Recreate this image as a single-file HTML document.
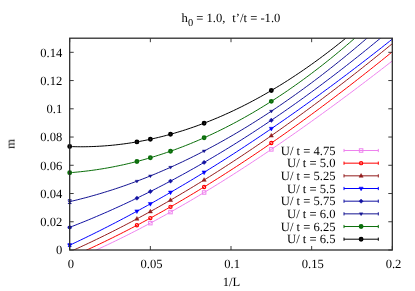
<!DOCTYPE html>
<html><head><meta charset="utf-8"><style>
html,body{margin:0;padding:0;background:#fff;}
svg{display:block;}
text{font-family:"Liberation Serif",serif;font-size:12.6px;fill:#000;text-rendering:geometricPrecision;will-change:transform;}
</style></head><body>
<svg width="415" height="291" viewBox="0 0 415 291">
<rect width="415" height="291" fill="#fff"/>
<clipPath id="c"><rect x="69.7" y="38.2" width="322.6" height="211.8"/></clipPath>
<path d="M69.70,261.58 L72.39,260.46 L75.08,259.32 L77.77,258.18 L80.45,257.02 L83.14,255.85 L85.83,254.67 L88.52,253.48 L91.21,252.28 L93.90,251.06 L96.58,249.84 L99.27,248.60 L101.96,247.36 L104.65,246.10 L107.34,244.83 L110.03,243.55 L112.71,242.27 L115.40,240.97 L118.09,239.66 L120.78,238.33 L123.47,237.00 L126.16,235.66 L128.84,234.31 L131.53,232.95 L134.22,231.58 L136.91,230.19 L139.60,228.80 L142.29,227.40 L144.97,225.99 L147.66,224.56 L150.35,223.13 L153.04,221.69 L155.73,220.24 L158.42,218.77 L161.10,217.30 L163.79,215.82 L166.48,214.33 L169.17,212.83 L171.86,211.32 L174.55,209.80 L177.23,208.28 L179.92,206.74 L182.61,205.19 L185.30,203.64 L187.99,202.07 L190.68,200.50 L193.36,198.92 L196.05,197.33 L198.74,195.73 L201.43,194.12 L204.12,192.50 L206.81,190.87 L209.49,189.24 L212.18,187.60 L214.87,185.94 L217.56,184.28 L220.25,182.61 L222.94,180.94 L225.62,179.25 L228.31,177.56 L231.00,175.86 L233.69,174.15 L236.38,172.43 L239.06,170.70 L241.75,168.97 L244.44,167.23 L247.13,165.48 L249.82,163.72 L252.51,161.95 L255.19,160.18 L257.88,158.40 L260.57,156.61 L263.26,154.82 L265.95,153.02 L268.64,151.21 L271.32,149.39 L274.01,147.56 L276.70,145.73 L279.39,143.89 L282.08,142.05 L284.77,140.19 L287.46,138.33 L290.14,136.47 L292.83,134.59 L295.52,132.71 L298.21,130.82 L300.90,128.93 L303.59,127.03 L306.27,125.12 L308.96,123.21 L311.65,121.29 L314.34,119.36 L317.03,117.43 L319.72,115.49 L322.40,113.54 L325.09,111.59 L327.78,109.63 L330.47,107.67 L333.16,105.70 L335.85,103.72 L338.53,101.74 L341.22,99.75 L343.91,97.76 L346.60,95.76 L349.29,93.76 L351.98,91.75 L354.66,89.73 L357.35,87.71 L360.04,85.68 L362.73,83.65 L365.42,81.61 L368.11,79.57 L370.79,77.52 L373.48,75.47 L376.17,73.41 L378.86,71.35 L381.55,69.28 L384.24,67.20 L386.92,65.12 L389.61,63.04 L392.30,60.95" fill="none" stroke="#ee82ee" stroke-width="1.0" clip-path="url(#c)"/>
<path d="M69.70,257.60 L72.39,256.43 L75.08,255.25 L77.77,254.06 L80.45,252.86 L83.14,251.65 L85.83,250.43 L88.52,249.20 L91.21,247.96 L93.90,246.71 L96.58,245.44 L99.27,244.17 L101.96,242.89 L104.65,241.60 L107.34,240.29 L110.03,238.98 L112.71,237.66 L115.40,236.32 L118.09,234.98 L120.78,233.63 L123.47,232.27 L126.16,230.89 L128.84,229.51 L131.53,228.12 L134.22,226.72 L136.91,225.30 L139.60,223.88 L142.29,222.45 L144.97,221.01 L147.66,219.56 L150.35,218.10 L153.04,216.63 L155.73,215.15 L158.42,213.66 L161.10,212.17 L163.79,210.66 L166.48,209.14 L169.17,207.62 L171.86,206.08 L174.55,204.54 L177.23,202.99 L179.92,201.42 L182.61,199.85 L185.30,198.27 L187.99,196.68 L190.68,195.08 L193.36,193.47 L196.05,191.86 L198.74,190.23 L201.43,188.59 L204.12,186.95 L206.81,185.30 L209.49,183.64 L212.18,181.97 L214.87,180.29 L217.56,178.60 L220.25,176.90 L222.94,175.20 L225.62,173.48 L228.31,171.76 L231.00,170.03 L233.69,168.29 L236.38,166.54 L239.06,164.79 L241.75,163.02 L244.44,161.25 L247.13,159.47 L249.82,157.68 L252.51,155.88 L255.19,154.08 L257.88,152.26 L260.57,150.44 L263.26,148.61 L265.95,146.77 L268.64,144.92 L271.32,143.07 L274.01,141.20 L276.70,139.33 L279.39,137.45 L282.08,135.57 L284.77,133.67 L287.46,131.77 L290.14,129.86 L292.83,127.94 L295.52,126.01 L298.21,124.08 L300.90,122.14 L303.59,120.19 L306.27,118.23 L308.96,116.27 L311.65,114.30 L314.34,112.32 L317.03,110.33 L319.72,108.34 L322.40,106.34 L325.09,104.33 L327.78,102.31 L330.47,100.29 L333.16,98.26 L335.85,96.22 L338.53,94.17 L341.22,92.12 L343.91,90.06 L346.60,87.99 L349.29,85.92 L351.98,83.84 L354.66,81.75 L357.35,79.66 L360.04,77.55 L362.73,75.44 L365.42,73.33 L368.11,71.21 L370.79,69.08 L373.48,66.94 L376.17,64.80 L378.86,62.65 L381.55,60.49 L384.24,58.33 L386.92,56.16 L389.61,53.98 L392.30,51.80" fill="none" stroke="#ff0000" stroke-width="1.0" clip-path="url(#c)"/>
<path d="M69.70,251.83 L72.39,250.63 L75.08,249.42 L77.77,248.20 L80.45,246.97 L83.14,245.73 L85.83,244.48 L88.52,243.22 L91.21,241.95 L93.90,240.66 L96.58,239.37 L99.27,238.07 L101.96,236.76 L104.65,235.44 L107.34,234.11 L110.03,232.77 L112.71,231.42 L115.40,230.07 L118.09,228.70 L120.78,227.32 L123.47,225.93 L126.16,224.53 L128.84,223.13 L131.53,221.71 L134.22,220.29 L136.91,218.85 L139.60,217.41 L142.29,215.95 L144.97,214.49 L147.66,213.02 L150.35,211.53 L153.04,210.04 L155.73,208.54 L158.42,207.03 L161.10,205.51 L163.79,203.98 L166.48,202.45 L169.17,200.90 L171.86,199.35 L174.55,197.78 L177.23,196.21 L179.92,194.63 L182.61,193.03 L185.30,191.43 L187.99,189.83 L190.68,188.21 L193.36,186.58 L196.05,184.94 L198.74,183.30 L201.43,181.65 L204.12,179.98 L206.81,178.31 L209.49,176.63 L212.18,174.95 L214.87,173.25 L217.56,171.55 L220.25,169.83 L222.94,168.11 L225.62,166.38 L228.31,164.64 L231.00,162.89 L233.69,161.14 L236.38,159.37 L239.06,157.60 L241.75,155.82 L244.44,154.03 L247.13,152.23 L249.82,150.42 L252.51,148.61 L255.19,146.79 L257.88,144.96 L260.57,143.12 L263.26,141.27 L265.95,139.42 L268.64,137.56 L271.32,135.68 L274.01,133.81 L276.70,131.92 L279.39,130.02 L282.08,128.12 L284.77,126.21 L287.46,124.29 L290.14,122.37 L292.83,120.43 L295.52,118.49 L298.21,116.54 L300.90,114.59 L303.59,112.62 L306.27,110.65 L308.96,108.67 L311.65,106.68 L314.34,104.69 L317.03,102.69 L319.72,100.68 L322.40,98.66 L325.09,96.63 L327.78,94.60 L330.47,92.56 L333.16,90.51 L335.85,88.46 L338.53,86.40 L341.22,84.33 L343.91,82.25 L346.60,80.17 L349.29,78.08 L351.98,75.98 L354.66,73.88 L357.35,71.77 L360.04,69.65 L362.73,67.52 L365.42,65.39 L368.11,63.25 L370.79,61.10 L373.48,58.95 L376.17,56.79 L378.86,54.62 L381.55,52.45 L384.24,50.27 L386.92,48.08 L389.61,45.88 L392.30,43.68" fill="none" stroke="#931c1c" stroke-width="1.0" clip-path="url(#c)"/>
<path d="M69.70,245.20 L72.39,243.94 L75.08,242.67 L77.77,241.40 L80.45,240.11 L83.14,238.82 L85.83,237.52 L88.52,236.21 L91.21,234.90 L93.90,233.57 L96.58,232.24 L99.27,230.90 L101.96,229.55 L104.65,228.19 L107.34,226.82 L110.03,225.45 L112.71,224.07 L115.40,222.68 L118.09,221.28 L120.78,219.87 L123.47,218.45 L126.16,217.03 L128.84,215.60 L131.53,214.16 L134.22,212.71 L136.91,211.26 L139.60,209.80 L142.29,208.32 L144.97,206.85 L147.66,205.36 L150.35,203.86 L153.04,202.36 L155.73,200.85 L158.42,199.33 L161.10,197.80 L163.79,196.27 L166.48,194.73 L169.17,193.18 L171.86,191.62 L174.55,190.06 L177.23,188.48 L179.92,186.90 L182.61,185.31 L185.30,183.72 L187.99,182.11 L190.68,180.50 L193.36,178.88 L196.05,177.26 L198.74,175.62 L201.43,173.98 L204.12,172.33 L206.81,170.67 L209.49,169.01 L212.18,167.34 L214.87,165.66 L217.56,163.97 L220.25,162.27 L222.94,160.57 L225.62,158.86 L228.31,157.15 L231.00,155.42 L233.69,153.69 L236.38,151.95 L239.06,150.21 L241.75,148.45 L244.44,146.69 L247.13,144.92 L249.82,143.15 L252.51,141.37 L255.19,139.58 L257.88,137.78 L260.57,135.97 L263.26,134.16 L265.95,132.34 L268.64,130.52 L271.32,128.69 L274.01,126.85 L276.70,125.00 L279.39,123.14 L282.08,121.28 L284.77,119.42 L287.46,117.54 L290.14,115.66 L292.83,113.77 L295.52,111.87 L298.21,109.97 L300.90,108.06 L303.59,106.14 L306.27,104.22 L308.96,102.29 L311.65,100.35 L314.34,98.41 L317.03,96.46 L319.72,94.50 L322.40,92.53 L325.09,90.56 L327.78,88.58 L330.47,86.60 L333.16,84.61 L335.85,82.61 L338.53,80.60 L341.22,78.59 L343.91,76.57 L346.60,74.55 L349.29,72.52 L351.98,70.48 L354.66,68.43 L357.35,66.38 L360.04,64.32 L362.73,62.26 L365.42,60.19 L368.11,58.11 L370.79,56.03 L373.48,53.94 L376.17,51.84 L378.86,49.74 L381.55,47.63 L384.24,45.51 L386.92,43.39 L389.61,41.26 L392.30,39.12" fill="none" stroke="#0000ff" stroke-width="1.0" clip-path="url(#c)"/>
<path d="M69.70,227.36 L72.39,226.31 L75.08,225.26 L77.77,224.20 L80.45,223.12 L83.14,222.04 L85.83,220.94 L88.52,219.84 L91.21,218.72 L93.90,217.59 L96.58,216.45 L99.27,215.31 L101.96,214.15 L104.65,212.98 L107.34,211.80 L110.03,210.61 L112.71,209.41 L115.40,208.20 L118.09,206.98 L120.78,205.75 L123.47,204.51 L126.16,203.26 L128.84,201.99 L131.53,200.72 L134.22,199.44 L136.91,198.14 L139.60,196.84 L142.29,195.52 L144.97,194.20 L147.66,192.86 L150.35,191.52 L153.04,190.16 L155.73,188.80 L158.42,187.42 L161.10,186.03 L163.79,184.64 L166.48,183.23 L169.17,181.81 L171.86,180.38 L174.55,178.94 L177.23,177.49 L179.92,176.03 L182.61,174.56 L185.30,173.08 L187.99,171.59 L190.68,170.09 L193.36,168.58 L196.05,167.06 L198.74,165.53 L201.43,163.98 L204.12,162.43 L206.81,160.87 L209.49,159.29 L212.18,157.71 L214.87,156.12 L217.56,154.51 L220.25,152.90 L222.94,151.27 L225.62,149.64 L228.31,147.99 L231.00,146.34 L233.69,144.67 L236.38,142.99 L239.06,141.31 L241.75,139.61 L244.44,137.90 L247.13,136.19 L249.82,134.46 L252.51,132.72 L255.19,130.97 L257.88,129.21 L260.57,127.45 L263.26,125.67 L265.95,123.88 L268.64,122.08 L271.32,120.27 L274.01,118.45 L276.70,116.62 L279.39,114.78 L282.08,112.93 L284.77,111.07 L287.46,109.19 L290.14,107.31 L292.83,105.42 L295.52,103.52 L298.21,101.61 L300.90,99.68 L303.59,97.75 L306.27,95.81 L308.96,93.86 L311.65,91.89 L314.34,89.92 L317.03,87.94 L319.72,85.94 L322.40,83.94 L325.09,81.92 L327.78,79.90 L330.47,77.87 L333.16,75.82 L335.85,73.77 L338.53,71.70 L341.22,69.63 L343.91,67.54 L346.60,65.45 L349.29,63.34 L351.98,61.22 L354.66,59.10 L357.35,56.96 L360.04,54.82 L362.73,52.66 L365.42,50.49 L368.11,48.32 L370.79,46.13 L373.48,43.93 L376.17,41.72 L378.86,39.51 L381.55,37.28 L384.24,35.04 L386.92,32.79 L389.61,30.54 L392.30,28.27" fill="none" stroke="#1212a2" stroke-width="1.0" clip-path="url(#c)"/>
<path d="M69.70,201.64 L72.39,201.01 L75.08,200.37 L77.77,199.71 L80.45,199.03 L83.14,198.34 L85.83,197.63 L88.52,196.91 L91.21,196.17 L93.90,195.41 L96.58,194.64 L99.27,193.85 L101.96,193.05 L104.65,192.23 L107.34,191.40 L110.03,190.55 L112.71,189.69 L115.40,188.81 L118.09,187.91 L120.78,187.00 L123.47,186.07 L126.16,185.13 L128.84,184.17 L131.53,183.19 L134.22,182.20 L136.91,181.20 L139.60,180.18 L142.29,179.14 L144.97,178.09 L147.66,177.02 L150.35,175.94 L153.04,174.84 L155.73,173.72 L158.42,172.59 L161.10,171.45 L163.79,170.28 L166.48,169.11 L169.17,167.91 L171.86,166.71 L174.55,165.48 L177.23,164.24 L179.92,162.99 L182.61,161.72 L185.30,160.43 L187.99,159.13 L190.68,157.82 L193.36,156.49 L196.05,155.14 L198.74,153.78 L201.43,152.40 L204.12,151.01 L206.81,149.60 L209.49,148.17 L212.18,146.73 L214.87,145.28 L217.56,143.81 L220.25,142.32 L222.94,140.82 L225.62,139.31 L228.31,137.77 L231.00,136.23 L233.69,134.67 L236.38,133.09 L239.06,131.50 L241.75,129.89 L244.44,128.26 L247.13,126.63 L249.82,124.97 L252.51,123.30 L255.19,121.62 L257.88,119.92 L260.57,118.20 L263.26,116.47 L265.95,114.73 L268.64,112.97 L271.32,111.19 L274.01,109.40 L276.70,107.60 L279.39,105.78 L282.08,103.94 L284.77,102.09 L287.46,100.22 L290.14,98.34 L292.83,96.44 L295.52,94.53 L298.21,92.60 L300.90,90.66 L303.59,88.70 L306.27,86.73 L308.96,84.75 L311.65,82.74 L314.34,80.73 L317.03,78.69 L319.72,76.65 L322.40,74.58 L325.09,72.51 L327.78,70.41 L330.47,68.31 L333.16,66.18 L335.85,64.05 L338.53,61.89 L341.22,59.73 L343.91,57.54 L346.60,55.35 L349.29,53.13 L351.98,50.91 L354.66,48.66 L357.35,46.41 L360.04,44.13 L362.73,41.85 L365.42,39.55 L368.11,37.23 L370.79,34.90 L373.48,32.55 L376.17,30.19 L378.86,27.81 L381.55,25.42 L384.24,23.02 L386.92,20.60 L389.61,18.16 L392.30,15.71" fill="none" stroke="#141492" stroke-width="1.0" clip-path="url(#c)"/>
<path d="M69.70,172.70 L72.39,172.49 L75.08,172.26 L77.77,172.01 L80.45,171.73 L83.14,171.44 L85.83,171.13 L88.52,170.81 L91.21,170.46 L93.90,170.09 L96.58,169.70 L99.27,169.29 L101.96,168.86 L104.65,168.41 L107.34,167.94 L110.03,167.46 L112.71,166.95 L115.40,166.42 L118.09,165.87 L120.78,165.31 L123.47,164.72 L126.16,164.11 L128.84,163.48 L131.53,162.84 L134.22,162.17 L136.91,161.48 L139.60,160.78 L142.29,160.05 L144.97,159.30 L147.66,158.53 L150.35,157.75 L153.04,156.94 L155.73,156.11 L158.42,155.26 L161.10,154.40 L163.79,153.51 L166.48,152.60 L169.17,151.67 L171.86,150.73 L174.55,149.76 L177.23,148.77 L179.92,147.76 L182.61,146.73 L185.30,145.68 L187.99,144.62 L190.68,143.53 L193.36,142.42 L196.05,141.29 L198.74,140.14 L201.43,138.97 L204.12,137.78 L206.81,136.56 L209.49,135.33 L212.18,134.08 L214.87,132.81 L217.56,131.52 L220.25,130.20 L222.94,128.87 L225.62,127.52 L228.31,126.14 L231.00,124.75 L233.69,123.33 L236.38,121.90 L239.06,120.44 L241.75,118.97 L244.44,117.47 L247.13,115.95 L249.82,114.41 L252.51,112.86 L255.19,111.28 L257.88,109.68 L260.57,108.06 L263.26,106.42 L265.95,104.75 L268.64,103.07 L271.32,101.37 L274.01,99.65 L276.70,97.90 L279.39,96.14 L282.08,94.35 L284.77,92.55 L287.46,90.72 L290.14,88.87 L292.83,87.00 L295.52,85.12 L298.21,83.21 L300.90,81.27 L303.59,79.32 L306.27,77.35 L308.96,75.36 L311.65,73.34 L314.34,71.31 L317.03,69.25 L319.72,67.18 L322.40,65.08 L325.09,62.96 L327.78,60.82 L330.47,58.66 L333.16,56.48 L335.85,54.28 L338.53,52.06 L341.22,49.81 L343.91,47.55 L346.60,45.26 L349.29,42.96 L351.98,40.63 L354.66,38.28 L357.35,35.91 L360.04,33.52 L362.73,31.11 L365.42,28.67 L368.11,26.22 L370.79,23.74 L373.48,21.25 L376.17,18.73 L378.86,16.19 L381.55,13.63 L384.24,11.05 L386.92,8.45 L389.61,5.82 L392.30,3.18" fill="none" stroke="#0a6e0a" stroke-width="1.0" clip-path="url(#c)"/>
<path d="M69.70,146.55 L72.39,146.64 L75.08,146.70 L77.77,146.74 L80.45,146.75 L83.14,146.75 L85.83,146.72 L88.52,146.67 L91.21,146.59 L93.90,146.49 L96.58,146.38 L99.27,146.23 L101.96,146.07 L104.65,145.88 L107.34,145.67 L110.03,145.44 L112.71,145.19 L115.40,144.91 L118.09,144.61 L120.78,144.29 L123.47,143.94 L126.16,143.58 L128.84,143.19 L131.53,142.78 L134.22,142.34 L136.91,141.88 L139.60,141.41 L142.29,140.90 L144.97,140.38 L147.66,139.83 L150.35,139.26 L153.04,138.67 L155.73,138.06 L158.42,137.42 L161.10,136.76 L163.79,136.08 L166.48,135.38 L169.17,134.65 L171.86,133.90 L174.55,133.13 L177.23,132.34 L179.92,131.52 L182.61,130.69 L185.30,129.83 L187.99,128.94 L190.68,128.04 L193.36,127.11 L196.05,126.16 L198.74,125.19 L201.43,124.19 L204.12,123.18 L206.81,122.14 L209.49,121.08 L212.18,119.99 L214.87,118.89 L217.56,117.76 L220.25,116.61 L222.94,115.44 L225.62,114.24 L228.31,113.02 L231.00,111.79 L233.69,110.52 L236.38,109.24 L239.06,107.93 L241.75,106.61 L244.44,105.25 L247.13,103.88 L249.82,102.49 L252.51,101.07 L255.19,99.63 L257.88,98.17 L260.57,96.69 L263.26,95.18 L265.95,93.65 L268.64,92.10 L271.32,90.53 L274.01,88.93 L276.70,87.32 L279.39,85.68 L282.08,84.02 L284.77,82.33 L287.46,80.63 L290.14,78.90 L292.83,77.15 L295.52,75.38 L298.21,73.59 L300.90,71.77 L303.59,69.93 L306.27,68.07 L308.96,66.19 L311.65,64.29 L314.34,62.36 L317.03,60.42 L319.72,58.45 L322.40,56.45 L325.09,54.44 L327.78,52.40 L330.47,50.34 L333.16,48.26 L335.85,46.16 L338.53,44.04 L341.22,41.89 L343.91,39.72 L346.60,37.53 L349.29,35.32 L351.98,33.09 L354.66,30.83 L357.35,28.55 L360.04,26.25 L362.73,23.93 L365.42,21.59 L368.11,19.22 L370.79,16.84 L373.48,14.43 L376.17,11.99 L378.86,9.54 L381.55,7.07 L384.24,4.57 L386.92,2.05 L389.61,-0.49 L392.30,-3.05" fill="none" stroke="#000000" stroke-width="1.0" clip-path="url(#c)"/>
<rect x="148.60" y="221.38" width="3.5" height="3.5" fill="none" stroke="#ee82ee" stroke-width="1"/>
<rect x="168.76" y="210.33" width="3.5" height="3.5" fill="none" stroke="#ee82ee" stroke-width="1"/>
<rect x="202.37" y="190.75" width="3.5" height="3.5" fill="none" stroke="#ee82ee" stroke-width="1"/>
<rect x="269.57" y="147.64" width="3.5" height="3.5" fill="none" stroke="#ee82ee" stroke-width="1"/>
<circle cx="136.91" cy="225.30" r="1.6" fill="none" stroke="#ff0000" stroke-width="1.2"/>
<circle cx="150.35" cy="218.10" r="1.6" fill="none" stroke="#ff0000" stroke-width="1.2"/>
<circle cx="170.51" cy="206.85" r="1.6" fill="none" stroke="#ff0000" stroke-width="1.2"/>
<circle cx="204.12" cy="186.95" r="1.6" fill="none" stroke="#ff0000" stroke-width="1.2"/>
<circle cx="271.32" cy="143.07" r="1.6" fill="none" stroke="#ff0000" stroke-width="1.2"/>
<path d="M136.91,216.55 L138.98,220.23 L134.84,220.23 Z" fill="#931c1c" stroke="#931c1c" stroke-width="0.5"/>
<path d="M150.35,209.23 L152.42,212.91 L148.28,212.91 Z" fill="#931c1c" stroke="#931c1c" stroke-width="0.5"/>
<path d="M170.51,197.82 L172.58,201.50 L168.44,201.50 Z" fill="#931c1c" stroke="#931c1c" stroke-width="0.5"/>
<path d="M204.12,177.68 L206.19,181.36 L202.05,181.36 Z" fill="#931c1c" stroke="#931c1c" stroke-width="0.5"/>
<path d="M271.32,133.38 L273.39,137.06 L269.25,137.06 Z" fill="#931c1c" stroke="#931c1c" stroke-width="0.5"/>
<path d="M69.70,244.00 V246.40 M67.90,244.00 h3.6 M67.90,246.40 h3.6" stroke="#0000ff" stroke-width="1" fill="none"/>
<path d="M69.70,247.50 L71.77,243.82 L67.63,243.82 Z" fill="#0000ff" stroke="#0000ff" stroke-width="0.5"/>
<path d="M136.91,213.56 L138.98,209.88 L134.84,209.88 Z" fill="#0000ff" stroke="#0000ff" stroke-width="0.5"/>
<path d="M150.35,206.16 L152.42,202.48 L148.28,202.48 Z" fill="#0000ff" stroke="#0000ff" stroke-width="0.5"/>
<path d="M170.51,194.70 L172.58,191.02 L168.44,191.02 Z" fill="#0000ff" stroke="#0000ff" stroke-width="0.5"/>
<path d="M204.12,174.63 L206.19,170.95 L202.05,170.95 Z" fill="#0000ff" stroke="#0000ff" stroke-width="0.5"/>
<path d="M271.32,130.99 L273.39,127.31 L269.25,127.31 Z" fill="#0000ff" stroke="#0000ff" stroke-width="0.5"/>
<path d="M69.70,226.46 V228.26 M67.90,226.46 h3.6 M67.90,228.26 h3.6" stroke="#1212a2" stroke-width="1" fill="none"/>
<path d="M69.70,225.21 L71.85,227.36 L69.70,229.51 L67.55,227.36 Z" fill="#1212a2" stroke="#1212a2" stroke-width="0.4"/>
<path d="M136.91,195.99 L139.06,198.14 L136.91,200.29 L134.76,198.14 Z" fill="#1212a2" stroke="#1212a2" stroke-width="0.4"/>
<path d="M150.35,189.37 L152.50,191.52 L150.35,193.67 L148.20,191.52 Z" fill="#1212a2" stroke="#1212a2" stroke-width="0.4"/>
<path d="M170.51,178.95 L172.66,181.10 L170.51,183.25 L168.36,181.10 Z" fill="#1212a2" stroke="#1212a2" stroke-width="0.4"/>
<path d="M204.12,160.28 L206.27,162.43 L204.12,164.58 L201.97,162.43 Z" fill="#1212a2" stroke="#1212a2" stroke-width="0.4"/>
<path d="M271.32,118.12 L273.47,120.27 L271.32,122.42 L269.18,120.27 Z" fill="#1212a2" stroke="#1212a2" stroke-width="0.4"/>
<path d="M69.70,199.74 V203.54 M67.90,199.74 h3.6 M67.90,203.54 h3.6" stroke="#141492" stroke-width="1" fill="none"/>
<path d="M69.70,203.44 L71.50,200.65 L67.90,200.65 Z" fill="#141492" stroke="#141492" stroke-width="0.4"/>
<path d="M136.91,183.00 L138.71,180.21 L135.11,180.21 Z" fill="#141492" stroke="#141492" stroke-width="0.4"/>
<path d="M150.35,177.74 L152.15,174.95 L148.55,174.95 Z" fill="#141492" stroke="#141492" stroke-width="0.4"/>
<path d="M170.51,169.11 L172.31,166.32 L168.71,166.32 Z" fill="#141492" stroke="#141492" stroke-width="0.4"/>
<path d="M204.12,152.81 L205.92,150.02 L202.32,150.02 Z" fill="#141492" stroke="#141492" stroke-width="0.4"/>
<path d="M271.32,112.99 L273.12,110.20 L269.52,110.20 Z" fill="#141492" stroke="#141492" stroke-width="0.4"/>
<circle cx="69.70" cy="172.70" r="1.45" fill="none" stroke="#0a6e0a" stroke-width="2.0"/>
<circle cx="136.91" cy="161.48" r="1.45" fill="none" stroke="#0a6e0a" stroke-width="2.0"/>
<circle cx="150.35" cy="157.75" r="1.45" fill="none" stroke="#0a6e0a" stroke-width="2.0"/>
<circle cx="170.51" cy="151.20" r="1.45" fill="none" stroke="#0a6e0a" stroke-width="2.0"/>
<circle cx="204.12" cy="137.78" r="1.45" fill="none" stroke="#0a6e0a" stroke-width="2.0"/>
<circle cx="271.32" cy="101.37" r="1.45" fill="none" stroke="#0a6e0a" stroke-width="2.0"/>
<circle cx="69.70" cy="146.55" r="1.45" fill="none" stroke="#000000" stroke-width="2.0"/>
<circle cx="136.91" cy="141.88" r="1.45" fill="none" stroke="#000000" stroke-width="2.0"/>
<circle cx="150.35" cy="139.26" r="1.45" fill="none" stroke="#000000" stroke-width="2.0"/>
<circle cx="170.51" cy="134.28" r="1.45" fill="none" stroke="#000000" stroke-width="2.0"/>
<circle cx="204.12" cy="123.18" r="1.45" fill="none" stroke="#000000" stroke-width="2.0"/>
<circle cx="271.32" cy="90.53" r="1.45" fill="none" stroke="#000000" stroke-width="2.0"/>
<rect x="69.7" y="38.2" width="322.60" height="211.80" fill="none" stroke="#262626" stroke-width="1.25"/>
<path d="M69.70,250.0 v-4 M69.70,38.2 v4 M150.35,250.0 v-4 M150.35,38.2 v4 M231.00,250.0 v-4 M231.00,38.2 v4 M311.65,250.0 v-4 M311.65,38.2 v4 M392.30,250.0 v-4 M392.30,38.2 v4 M69.7,250.00 h4 M392.3,250.00 h-4 M69.7,221.76 h4 M392.3,221.76 h-4 M69.7,193.52 h4 M392.3,193.52 h-4 M69.7,165.28 h4 M392.3,165.28 h-4 M69.7,137.04 h4 M392.3,137.04 h-4 M69.7,108.80 h4 M392.3,108.80 h-4 M69.7,80.56 h4 M392.3,80.56 h-4 M69.7,52.32 h4 M392.3,52.32 h-4" stroke="#303030" stroke-width="0.95" fill="none"/>
<text x="62.3" y="254.30" text-anchor="end">0</text>
<text x="62.3" y="226.06" text-anchor="end">0.02</text>
<text x="62.3" y="197.82" text-anchor="end">0.04</text>
<text x="62.3" y="169.58" text-anchor="end">0.06</text>
<text x="62.3" y="141.34" text-anchor="end">0.08</text>
<text x="62.3" y="113.10" text-anchor="end">0.1</text>
<text x="62.3" y="84.86" text-anchor="end">0.12</text>
<text x="62.3" y="56.62" text-anchor="end">0.14</text>
<text x="70.90" y="267.8" text-anchor="middle">0</text>
<text x="151.55" y="267.8" text-anchor="middle">0.05</text>
<text x="232.20" y="267.8" text-anchor="middle">0.1</text>
<text x="312.85" y="267.8" text-anchor="middle">0.15</text>
<text x="393.50" y="267.8" text-anchor="middle">0.2</text>
<text x="231.4" y="286.4" text-anchor="middle">1/L</text>
<text transform="translate(14.6,143.8) rotate(-90)" text-anchor="middle">m</text>
<text x="181.6" y="21.6" xml:space="preserve">h<tspan dy="4" font-size="10.4">0</tspan><tspan dy="-4"> = 1.0,</tspan></text>
<text x="232.3" y="21.6" xml:space="preserve">t’/t = -1.0</text>
<text x="335.5" y="154.70" text-anchor="end">U/ t = 4.75</text>
<path d="M344,150.50 H378.3 M344,148.90 v3.2 M378.3,148.90 v3.2" stroke="#ee82ee" stroke-width="1.0" fill="none"/>
<rect x="359.35" y="148.75" width="3.5" height="3.5" fill="none" stroke="#ee82ee" stroke-width="1"/>
<text x="335.5" y="167.37" text-anchor="end">U/ t = 5.0</text>
<path d="M344,163.17 H378.3 M344,161.57 v3.2 M378.3,161.57 v3.2" stroke="#ff0000" stroke-width="1.0" fill="none"/>
<circle cx="361.10" cy="163.17" r="1.6" fill="none" stroke="#ff0000" stroke-width="1.2"/>
<text x="335.5" y="180.04" text-anchor="end">U/ t = 5.25</text>
<path d="M344,175.84 H378.3 M344,174.24 v3.2 M378.3,174.24 v3.2" stroke="#931c1c" stroke-width="1.0" fill="none"/>
<path d="M361.10,173.54 L363.17,177.22 L359.03,177.22 Z" fill="#931c1c" stroke="#931c1c" stroke-width="0.5"/>
<text x="335.5" y="192.71" text-anchor="end">U/ t = 5.5</text>
<path d="M344,188.51 H378.3 M344,186.91 v3.2 M378.3,186.91 v3.2" stroke="#0000ff" stroke-width="1.0" fill="none"/>
<path d="M361.10,190.81 L363.17,187.13 L359.03,187.13 Z" fill="#0000ff" stroke="#0000ff" stroke-width="0.5"/>
<text x="335.5" y="205.38" text-anchor="end">U/ t = 5.75</text>
<path d="M344,201.18 H378.3 M344,199.58 v3.2 M378.3,199.58 v3.2" stroke="#1212a2" stroke-width="1.0" fill="none"/>
<path d="M361.10,199.03 L363.25,201.18 L361.10,203.33 L358.95,201.18 Z" fill="#1212a2" stroke="#1212a2" stroke-width="0.4"/>
<text x="335.5" y="218.05" text-anchor="end">U/ t = 6.0</text>
<path d="M344,213.85 H378.3 M344,212.25 v3.2 M378.3,212.25 v3.2" stroke="#141492" stroke-width="1.0" fill="none"/>
<path d="M361.10,215.65 L362.90,212.86 L359.30,212.86 Z" fill="#141492" stroke="#141492" stroke-width="0.4"/>
<text x="335.5" y="230.72" text-anchor="end">U/ t = 6.25</text>
<path d="M344,226.52 H378.3 M344,224.92 v3.2 M378.3,224.92 v3.2" stroke="#0a6e0a" stroke-width="1.0" fill="none"/>
<circle cx="361.10" cy="226.52" r="1.45" fill="none" stroke="#0a6e0a" stroke-width="2.0"/>
<text x="335.5" y="243.39" text-anchor="end">U/ t = 6.5</text>
<path d="M344,239.19 H378.3 M344,237.59 v3.2 M378.3,237.59 v3.2" stroke="#000000" stroke-width="1.0" fill="none"/>
<circle cx="361.10" cy="239.19" r="1.45" fill="none" stroke="#000000" stroke-width="2.0"/>
</svg>
</body></html>
